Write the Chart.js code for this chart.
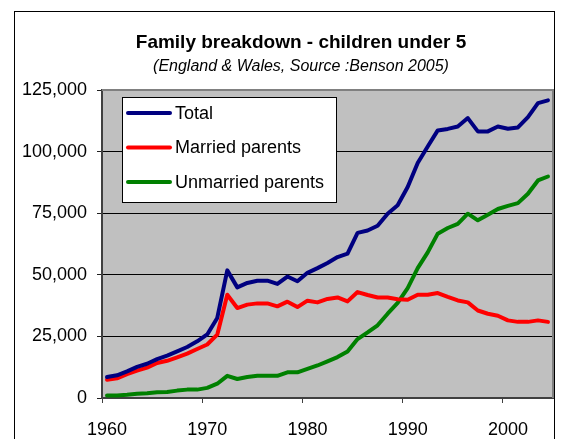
<!DOCTYPE html>
<html><head><meta charset="utf-8">
<script src="https://cdn.jsdelivr.net/npm/chart.js@4/dist/chart.umd.min.js"></script>
<style>html,body{margin:0;padding:0;background:#fff}#wrap{width:565px;height:439px;position:relative}</style>
</head><body><div id="wrap"><canvas id="c" width="565" height="439"></canvas></div>
<script>
const years = [1960,1961,1962,1963,1964,1965,1966,1967,1968,1969,
  1970,1971,1972,1973,1974,1975,1976,1977,1978,1979,
  1980,1981,1982,1983,1984,1985,1986,1987,1988,1989,
  1990,1991,1992,1993,1994,1995,1996,1997,1998,1999,
  2000,2001,2002,2003,2004];
const totalValues = [8500,9200,10800,12600,13900,15800,17200,18900,20700,23000,
  25800,32500,51800,44900,46700,47600,47600,46300,49300,47400,
  50800,52700,54800,57200,58600,67000,68000,69900,74800,78200,
  85600,95400,102100,108600,109200,110200,113600,108200,108200,110200,
  109300,109800,114000,119700,120800];
const marriedValues = [7400,8000,9700,11100,12300,14200,15100,16500,18000,19900,
  21700,25700,41900,36500,37900,38400,38400,37200,39100,36900,
  39500,38800,40200,40800,39200,43000,41800,40800,40800,40100,
  39900,41900,41900,42600,41000,39600,38800,35500,34200,33400,
  31500,30900,30900,31500,30900];
const unmarriedValues = [1000,1000,1300,1700,1900,2300,2400,3000,3400,3400,
  4100,5800,9000,7700,8500,9000,9000,9000,10400,10400,
  11800,13200,14900,16600,18900,23900,26600,29500,34200,38600,
  44600,52700,59100,66700,69000,70700,74800,72100,74400,76700,
  78000,79100,82900,88300,89900];
const yTickValues = [0,25000,50000,75000,100000,125000];
const seriesNames = ['Total','Married parents','Unmarried parents'];
const seriesColors = ['#000080','#ff0000','#008000'];
const titleText = 'Family breakdown - children under 5';
const subtitleText = '(England & Wales, Source :Benson 2005)';

const FONT = "'Liberation Sans', Arial, sans-serif";

const decorPlugin = {
  id: 'decor',
  beforeDraw(chart) {
    const {ctx, chartArea: a} = chart;
    ctx.save();
    ctx.fillStyle = '#ffffff';
    ctx.fillRect(0, 0, chart.width, chart.height);
    ctx.fillStyle = '#c0c0c0';
    ctx.fillRect(a.left, a.top, a.right - a.left, a.bottom - a.top);
    ctx.strokeStyle = '#000000';
    ctx.lineWidth = 1;
    ctx.strokeRect(14.5, 11.5, 540, 460);
    ctx.restore();
  },
  beforeDatasetsDraw(chart) {
    const {ctx, chartArea: a} = chart;
    ctx.save();
    ctx.strokeStyle = '#808080';
    ctx.lineWidth = 2;
    ctx.beginPath();
    ctx.moveTo(a.left, a.top);
    ctx.lineTo(a.right, a.top);
    ctx.lineTo(a.right, a.bottom);
    ctx.stroke();
    ctx.restore();
  },
  afterDraw(chart) {
    const {ctx, chartArea: a} = chart;
    ctx.save();
    ctx.fillStyle = '#000';
    ctx.textAlign = 'center';
    ctx.textBaseline = 'alphabetic';
    ctx.font = 'bold 19px ' + FONT;
    ctx.fillText(titleText, 301, 48);
    ctx.font = 'italic 16px ' + FONT;
    ctx.fillText(subtitleText, 301, 71);
    // legend
    const bx = a.left + 20, by = a.top + 7, bw = 214, bh = 105;
    ctx.fillStyle = '#ffffff';
    ctx.fillRect(bx, by, bw, bh);
    ctx.strokeStyle = '#000000';
    ctx.lineWidth = 1;
    ctx.strokeRect(bx + 0.5, by + 0.5, bw, bh);
    ctx.textAlign = 'left';
    ctx.textBaseline = 'middle';
    ctx.font = '18px ' + FONT;
    chart.data.datasets.forEach((ds, i) => {
      const yy = by + 16 + i * 34.5;
      ctx.strokeStyle = ds.borderColor;
      ctx.lineWidth = 4;
      ctx.lineCap = 'round';
      ctx.beginPath();
      ctx.moveTo(bx + 6, yy);
      ctx.lineTo(bx + 48, yy);
      ctx.stroke();
      ctx.fillStyle = '#000';
      ctx.fillText(ds.label, bx + 53, yy + 1);
    });
    ctx.restore();
  }
};

new Chart(document.getElementById('c'), {
  type: 'line',
  data: {
    labels: years.map(String),
    datasets: [
      {label: seriesNames[0], data: totalValues, borderColor: seriesColors[0]},
      {label: seriesNames[1], data: marriedValues, borderColor: seriesColors[1]},
      {label: seriesNames[2], data: unmarriedValues, borderColor: seriesColors[2]}
    ].map(d => Object.assign(d, {borderWidth: 4, pointRadius: 0, tension: 0, fill: false,
      borderJoinStyle: 'round', borderCapStyle: 'round'}))
  },
  options: {
    responsive: false,
    animation: false,
    devicePixelRatio: 1,
    layout: {padding: {top: 90, right: 12, left: 0, bottom: 0}},
    plugins: {legend: {display: false}, title: {display: false}, tooltip: {enabled: false}},
    scales: {
      x: {
        type: 'category',
        offset: true,
        afterFit(s) { s.height = 41; },
        grid: {
          display: true, drawOnChartArea: false, offset: true, tickLength: 5,
          color: c => (c.index !== undefined && years[c.index] % 10 === 0) ? '#404040' : 'rgba(0,0,0,0)',
          tickColor: c => (c.index !== undefined && years[c.index] % 10 === 0) ? '#404040' : 'rgba(0,0,0,0)',
          tickWidth: 1
        },
        border: {display: true, color: '#404040', width: 2},
        ticks: {
          autoSkip: false, maxRotation: 0, minRotation: 0, padding: 16,
          color: '#000', font: {family: FONT, size: 18},
          callback: (v, i) => (years[i] % 10 === 0 ? String(years[i]) : '')
        }
      },
      y: {
        min: 0, max: 125000,
        afterFit(s) { s.width = 102; },
        afterBuildTicks(s) { s.ticks = yTickValues.map(v => ({value: v})); },
        grid: {
          color: c => (c.tick && c.tick.value === 125000) ? '#808080' : (c.tick && c.tick.value === 0 ? 'rgba(0,0,0,0)' : '#000000'),
          tickColor: '#202020', tickLength: 5, lineWidth: 1
        },
        border: {display: true, color: '#404040', width: 2},
        ticks: {
          padding: 10, color: '#000', font: {family: FONT, size: 18},
          callback: v => v.toLocaleString('en-US')
        }
      }
    }
  },
  plugins: [decorPlugin]
});
</script>
</body></html>
